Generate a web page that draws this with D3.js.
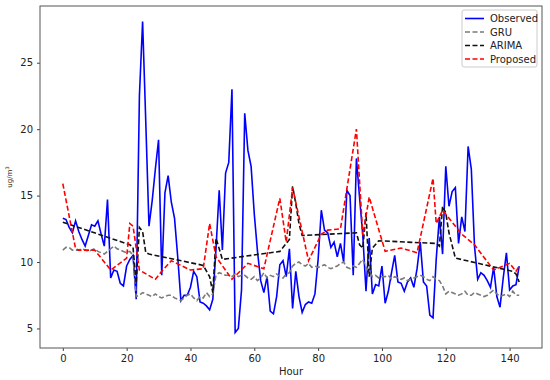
<!DOCTYPE html>
<html>
<head>
<meta charset="utf-8">
<script src="https://cdn.jsdelivr.net/npm/d3@7"></script>
<style>
  body { margin: 0; background: #fff; }
  svg { font-family: 'DejaVu Sans', sans-serif; }
</style>
</head>
<body>
<div id="chart"></div>
<script>
// hourly observed values
const observed = [
  13.3, 13.2, 12.6, 12.2, 13.1, 12.3, 11.7, 11.2, 12.0, 12.8,
  12.7, 13.1, 12.1, 11.2, 14.7, 8.8, 9.4, 9.3, 8.4, 8.2,
  9.7, 10.2, 10.5, 7.2, 22.5, 28.1, 20.5, 12.7, 14.6, 17.0,
  19.2, 9.0, 15.2, 16.5, 14.5, 13.3, 10.4, 7.1, 7.5, 7.5,
  8.1, 9.3, 8.9, 7.0, 6.9, 6.7, 6.4, 7.2, 11.0, 15.4,
  10.9, 16.7, 17.5, 23.0, 4.7, 5.0, 7.9, 21.2, 18.4, 17.2,
  13.6, 10.8, 8.6, 7.7, 8.9, 6.3, 6.1, 7.4, 9.8, 10.1,
  8.9, 11.0, 6.5, 9.3, 7.4, 6.2, 6.8, 7.0, 6.9, 7.6,
  10.2, 13.9, 12.4, 12.2, 11.1, 11.5, 10.4, 11.4, 10.0, 15.4,
  15.0, 9.0, 17.8, 14.8, 12.0, 7.8, 11.8, 7.6, 8.3, 8.2,
  9.7, 6.9, 7.8, 9.2, 10.5, 8.5, 8.4, 7.8, 8.5, 8.8,
  8.1, 9.5, 11.5, 8.5, 8.2, 6.0, 5.8, 10.2, 13.4, 10.6,
  17.2, 14.2, 15.3, 15.6, 11.4, 13.4, 12.3, 18.7, 17.0, 11.2,
  8.7, 9.2, 9.0, 8.6, 8.1, 9.6, 7.4, 6.6, 8.8, 10.7,
  7.9, 8.2, 8.3, 9.7
];

// hourly GRU predictions
const gru = [
  10.9, 11.1, 11.1, 10.9, 10.9, 10.9, 11.0, 10.9, 10.8, 10.9,
  11.0, 10.8, 10.7, 10.6, 10.8, 11.0, 11.2, 11.0, 10.9, 10.8,
  10.7, 10.8, 10.5, 7.4, 7.5, 7.7, 7.6, 7.5, 7.4, 7.6,
  7.4, 7.3, 7.4, 7.5, 7.5, 7.3, 7.2, 7.1, 7.3, 7.5,
  7.6, 7.3, 7.1, 7.4, 7.3, 7.7, 7.4, 7.6, 9.0, 9.2,
  9.1, 9.0, 9.0, 8.9, 9.1, 8.9, 9.0, 9.0, 8.8, 8.7,
  8.9, 8.6, 8.8, 9.2, 8.8, 9.0, 8.9, 9.1, 8.9, 8.8,
  9.1, 9.2, 9.7, 9.9, 10.0, 9.8, 9.7, 9.9, 9.6, 9.7,
  9.6, 9.7, 9.8, 9.6, 9.5, 9.6, 9.7, 9.9, 10.0, 9.6,
  9.5, 9.7, 9.6, 9.9, 10.2, 9.6, 9.3, 8.9, 9.0, 8.8,
  8.9, 8.9, 9.0, 8.7, 8.9, 8.8, 8.7, 8.8, 8.6, 8.7,
  8.8, 8.9, 9.0, 8.9, 8.7, 8.6, 8.9, 8.7, 8.6, 8.2,
  7.6, 7.8, 7.7, 7.6, 7.5, 7.6, 7.8, 7.5, 7.5, 7.7,
  7.6, 7.5, 7.4, 7.5, 7.7, 7.9, 7.6, 7.4, 7.5, 7.6,
  7.4, 7.8, 7.5, 7.5
];

// ARIMA: hours where the line bends, and its values there
const arimaHours = [0, 21, 22, 23, 24, 25, 26, 27, 44, 46, 47, 48, 49, 50, 68, 70, 71, 72, 73, 74, 75,
  92, 93, 94, 95, 96, 97, 99, 117, 118, 119, 120, 121, 123, 141, 142, 143];
const arimaValues = [13.0, 11.3, 11.1, 8.4, 12.6, 12.3, 10.7, 10.6, 9.75, 8.9, 7.7, 11.8, 11.0, 10.2, 10.8, 11.4, 11.7, 15.7, 14.4, 12.9, 12.0,
  12.2, 11.3, 11.05, 13.7, 8.9, 11.05, 11.6, 11.4, 11.2, 14.2, 13.7, 12.2, 10.3, 9.3, 9.1, 8.5];

// Proposed model: hours where the line bends, and its values there
const proposedHours = [0, 4, 5, 10, 15, 20, 21, 22, 24, 29, 31, 34, 40, 44, 46, 48, 53, 58, 63, 68, 70, 72,
  77, 81, 83, 87, 92, 94, 96, 101, 106, 111, 116, 117, 119, 125, 129, 135, 140, 142, 143];
const proposedValues = [15.9, 11.0, 10.9, 10.9, 9.4, 10.3, 12.9, 12.7, 9.4, 8.7, 9.3, 10.1, 9.4, 9.5, 12.9, 10.4, 8.7, 9.9, 9.5, 14.8, 11.5, 15.6,
  10.1, 12.1, 12.4, 12.5, 20.0, 12.0, 14.9, 10.8, 11.05, 10.7, 16.3, 12.9, 13.9, 12.1, 11.3, 9.4, 9.9, 9.3, 9.7];

const yTicks = [5, 10, 15, 20, 25];
const xTicks = [0, 20, 40, 60, 80, 100, 120, 140];

const width = 550;
const height = 380;
const margin = { top: 6, right: 8, bottom: 32, left: 40 };

const svg = d3.select('#chart')
  .append('svg')
  .attr('width', width)
  .attr('height', height);

// matplotlib-like limits: data range plus 5% padding
const x = d3.scaleLinear()
  .domain([-7.15, 150.15])
  .range([margin.left, width - margin.right]);

const y = d3.scaleLinear()
  .domain([3.53, 29.27])
  .range([height - margin.bottom, margin.top]);

const series = [
  { name: 'Observed', pts: observed.map((v, i) => [i, v]), color: '#0000ff', dash: null },
  { name: 'GRU', pts: gru.map((v, i) => [i, v]), color: '#7a7a7a', dash: '5,2.5' },
  { name: 'ARIMA', pts: arimaHours.map((h, i) => [h, arimaValues[i]]), color: '#111', dash: '5,2.5' },
  { name: 'Proposed', pts: proposedHours.map((h, i) => [h, proposedValues[i]]), color: '#ff0000', dash: '5,2.5' }
];

const line = d3.line()
  .x(d => x(d[0]))
  .y(d => y(d[1]));

// draw in matplotlib order, observed underneath
svg.selectAll('.series')
  .data(series)
  .enter()
  .append('path')
  .attr('class', 'series')
  .attr('fill', 'none')
  .attr('stroke', d => d.color)
  .attr('stroke-width', 1.6)
  .attr('stroke-dasharray', d => d.dash)
  .attr('d', d => line(d.pts));

// axes
const xAxis = svg.append('g')
  .attr('transform', `translate(0,${height - margin.bottom})`)
  .call(d3.axisBottom(x).tickValues(xTicks).tickSize(3).tickPadding(4));

const yAxis = svg.append('g')
  .attr('transform', `translate(${margin.left},0)`)
  .call(d3.axisLeft(y).tickValues(yTicks).tickSize(3).tickPadding(4));

[xAxis, yAxis].forEach(g => {
  g.select('.domain').remove();
  g.selectAll('line').attr('stroke', '#444');
  g.selectAll('text')
    .attr('fill', '#222')
    .style('font-size', '10px')
    .style('font-family', "'DejaVu Sans', sans-serif");
});

// frame
svg.append('rect')
  .attr('x', margin.left)
  .attr('y', margin.top)
  .attr('width', width - margin.left - margin.right)
  .attr('height', height - margin.top - margin.bottom)
  .attr('fill', 'none')
  .attr('stroke', '#555')
  .attr('stroke-width', 1);

// axis labels
svg.append('text')
  .attr('x', (margin.left + width - margin.right) / 2)
  .attr('y', 375)
  .attr('text-anchor', 'middle')
  .attr('fill', '#222')
  .style('font-size', '10px')
  .text('Hour');

const yl = svg.append('text')
  .attr('transform', `translate(12,177) rotate(-90)`)
  .attr('text-anchor', 'middle')
  .attr('fill', '#222')
  .style('font-size', '7px');
yl.append('tspan').text('ug/m');
yl.append('tspan').attr('dy', -3).style('font-size', '5px').text('3');

// legend
const legend = svg.append('g');

legend.append('rect')
  .attr('x', 462)
  .attr('y', 10)
  .attr('width', 75)
  .attr('height', 57)
  .attr('rx', 2)
  .attr('fill', '#fff')
  .attr('fill-opacity', 0.8)
  .attr('stroke', '#ccc');

const items = legend.selectAll('.item')
  .data(series)
  .enter()
  .append('g')
  .attr('class', 'item')
  .attr('transform', (d, i) => `translate(0,${18.5 + i * 13.5})`);

items.append('line')
  .attr('x1', 465)
  .attr('x2', 484)
  .attr('stroke', d => d.color)
  .attr('stroke-width', 1.6)
  .attr('stroke-dasharray', d => d.dash);

items.append('text')
  .attr('x', 490)
  .attr('dy', '0.35em')
  .attr('fill', '#222')
  .style('font-size', '10px')
  .text(d => d.name);
</script>
</body>
</html>
